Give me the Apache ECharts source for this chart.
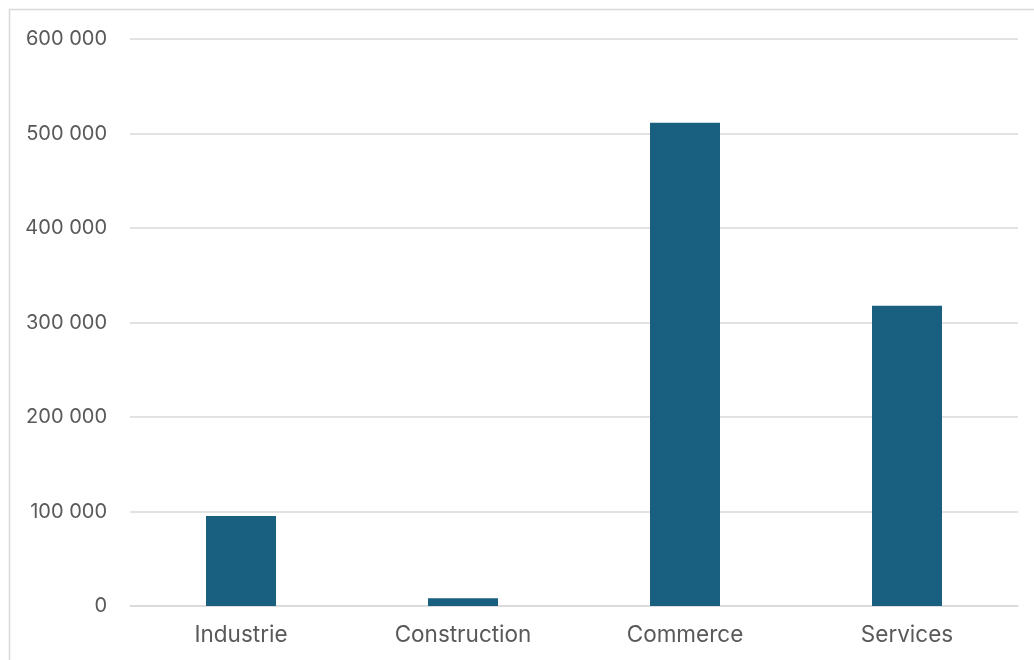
<!DOCTYPE html>
<html>
<head>
<meta charset="utf-8">
<script src="https://cdn.jsdelivr.net/npm/echarts@6/dist/echarts.min.js"></script>
<style>
html,body{margin:0;padding:0;background:#fff;}
#c{width:1034px;height:660px;}
</style>
</head>
<body>
<div id="c"></div>
<script>
const categories = ["Industrie", "Construction", "Commerce", "Services"];
const values = [95200, 8100, 511400, 317800];
const yTicks = [0, 100000, 200000, 300000, 400000, 500000, 600000];

function fmt(v) {
  return String(v).replace(/\B(?=(\d{3})+(?!\d))/g, " ");
}

const chart = echarts.init(document.getElementById('c'), null, {renderer: 'canvas'});
chart.setOption({
  animation: false,
  backgroundColor: '#ffffff',
  graphic: [{
    type: 'rect',
    shape: {x: 9.5, y: 9.5, width: 1100, height: 700},
    style: {fill: 'none', stroke: '#d9d9d9', lineWidth: 1.5},
    silent: true
  }],
  grid: {left: 130, right: 16, top: 39, bottom: 54, containLabel: false},
  xAxis: {
    type: 'category',
    data: categories,
    axisLine: {show: true, lineStyle: {color: '#d9d9d9', width: 1.5}},
    axisTick: {show: false},
    axisLabel: {color: '#595959', fontSize: 22.5, fontFamily: 'Inter', margin: 18}
  },
  yAxis: {
    type: 'value',
    min: yTicks[0],
    max: yTicks[yTicks.length - 1],
    interval: 100000,
    axisLine: {show: false},
    axisTick: {show: false},
    splitLine: {lineStyle: {color: '#d9d9d9', width: 1.5}},
    axisLabel: {color: '#595959', fontSize: 20, fontFamily: 'Inter', margin: 23, formatter: fmt}
  },
  series: [{
    type: 'bar',
    data: values,
    barWidth: 70,
    itemStyle: {color: '#185f80'}
  }]
});
</script>
</body>
</html>
